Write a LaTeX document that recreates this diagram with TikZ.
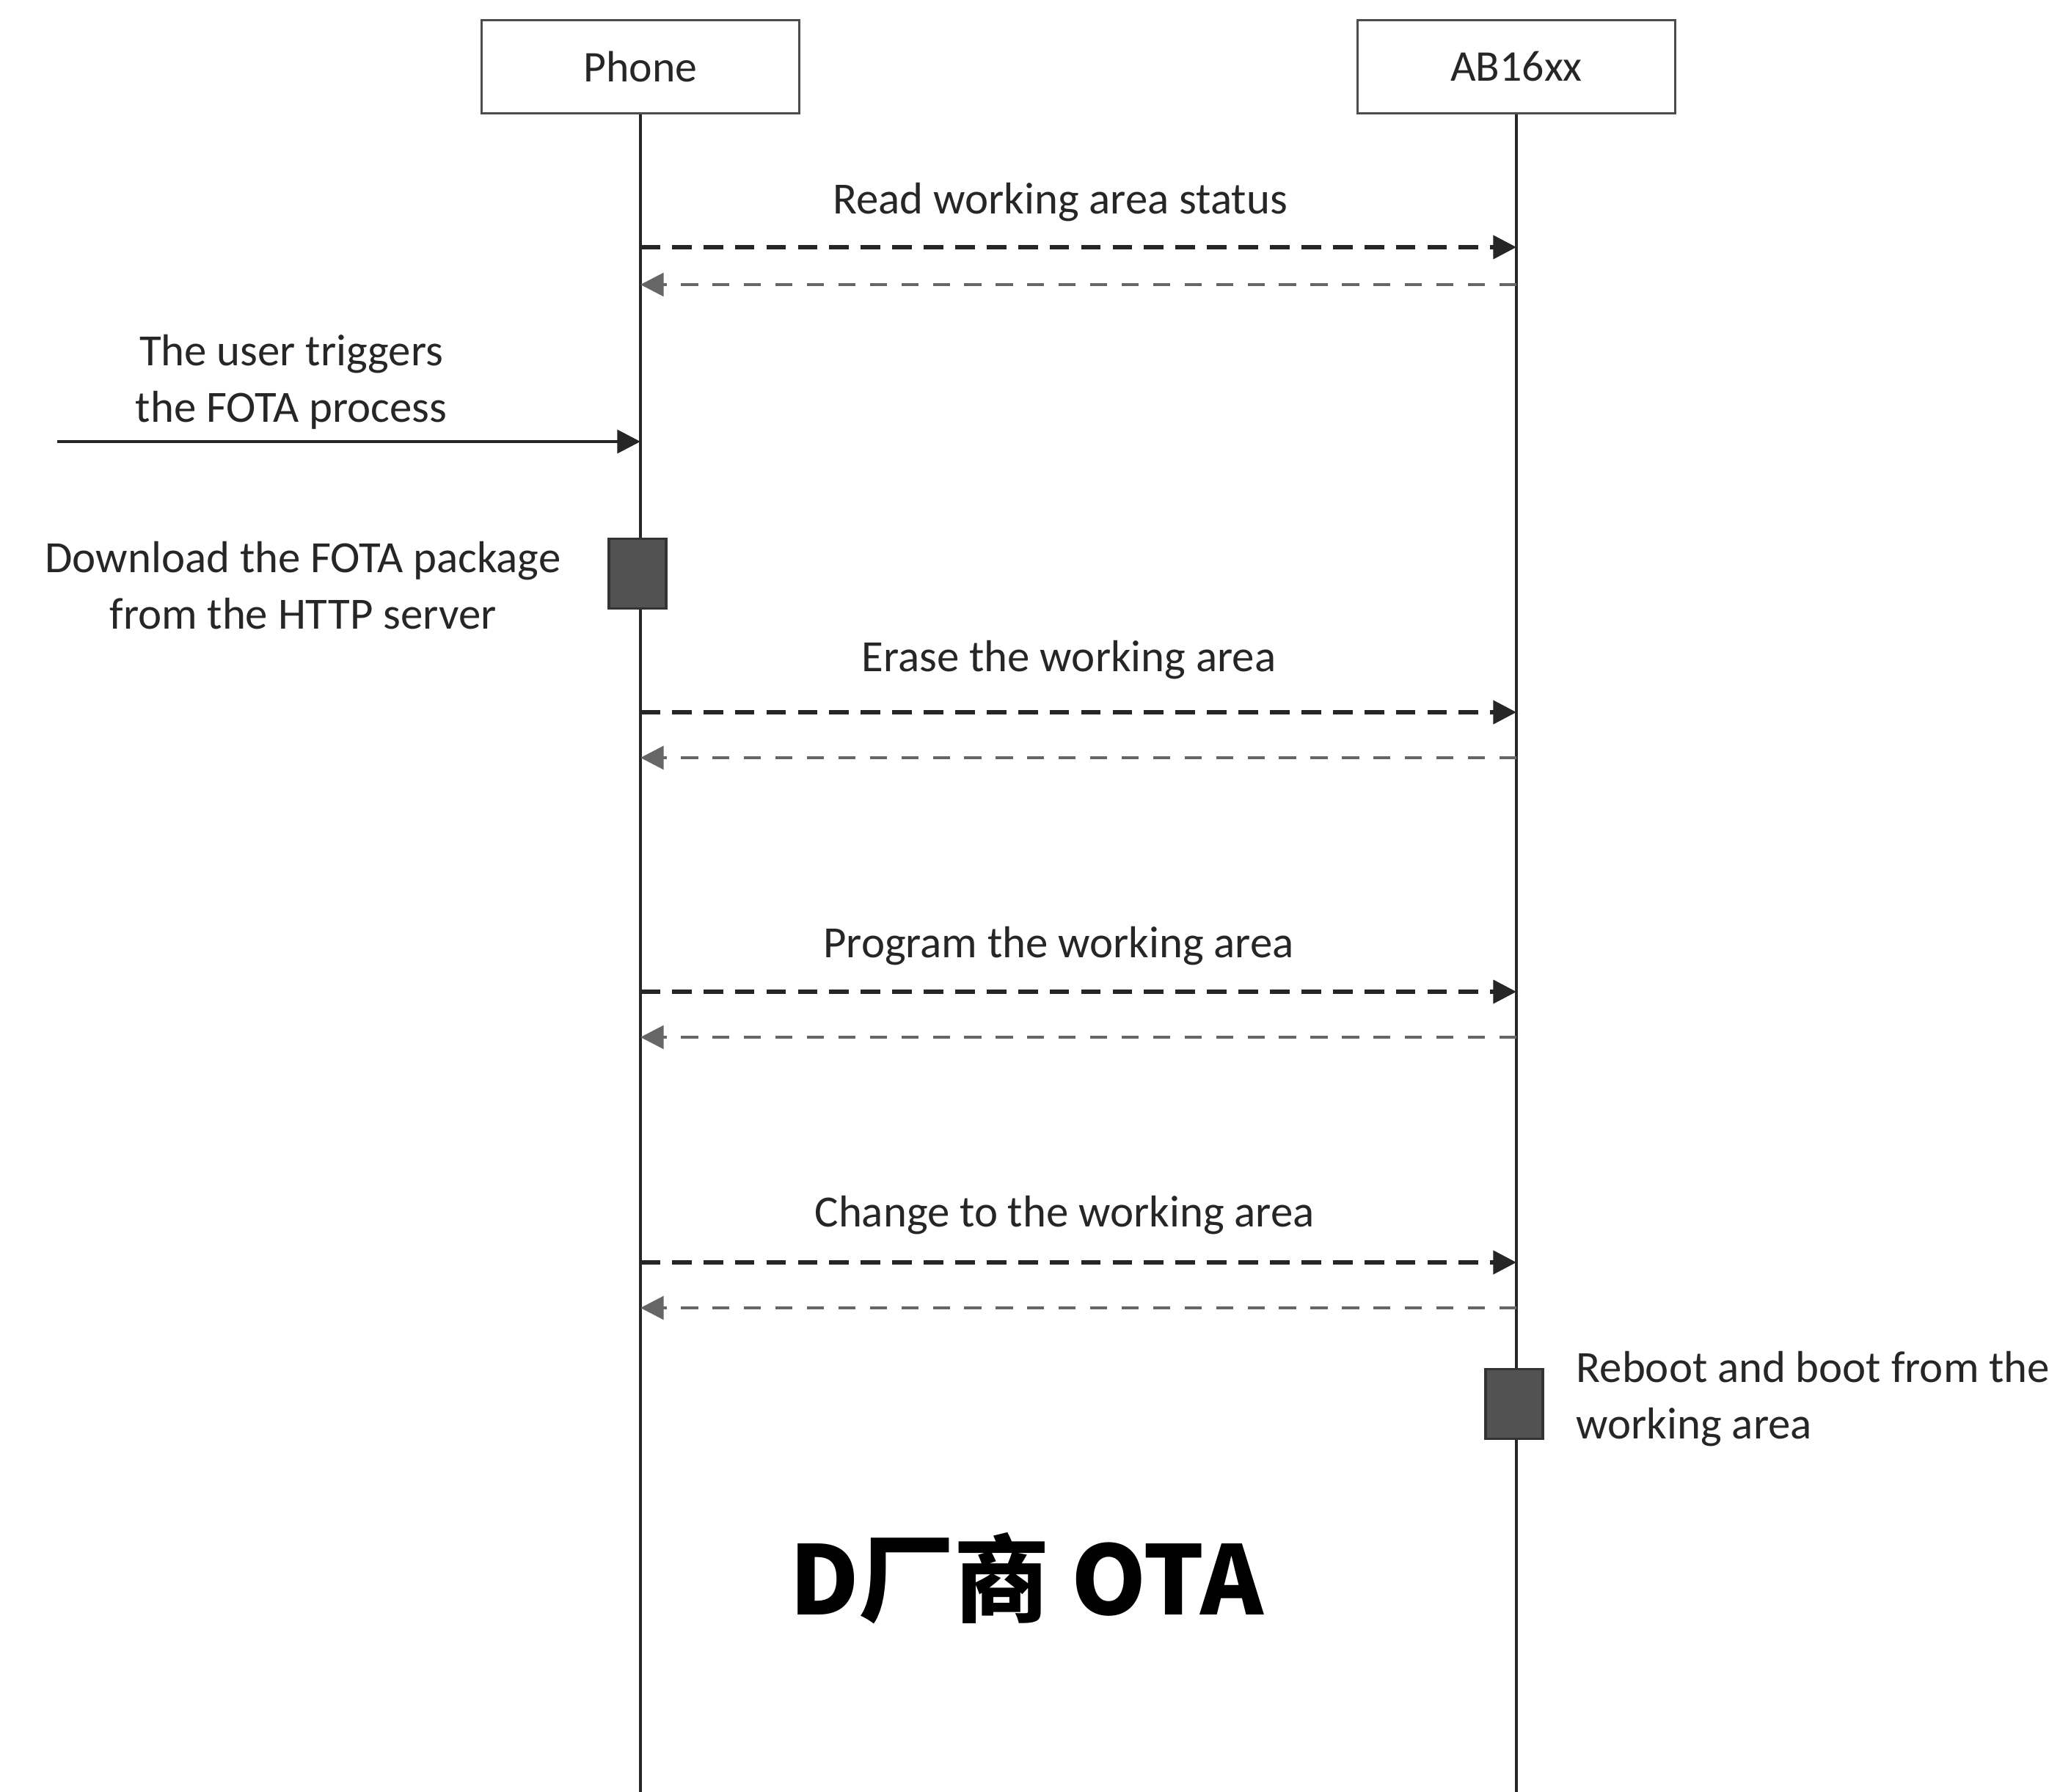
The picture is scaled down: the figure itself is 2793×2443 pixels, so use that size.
\documentclass[tikz,border=0pt]{standalone}
\usepackage{fontspec}
\setmainfont{Carlito}
\newfontfamily\cjkfont{Noto Sans CJK SC}
\usetikzlibrary{arrows.meta,positioning}

\tikzset{
  lifebox/.style={draw=black!70, line width=1pt, minimum width=4.33cm,
    minimum height=1.27cm, inner sep=0pt, text=black!85,
    font=\fontsize{17}{20}\selectfont},
  lifeline/.style={line width=0.9pt, black!85},
  callmsg/.style={line width=1.5pt, black!85, dash pattern=on 7.6pt off 4.6pt,
    -{Triangle[length=9pt,width=9pt]}},
  replymsg/.style={line width=1.2pt, black!60, dash pattern=on 6.6pt off 5.6pt,
    -{Triangle[length=9pt,width=9pt]}},
  usermsg/.style={line width=1.3pt, black!85, -{Triangle[length=9pt,width=9pt]}},
  activity/.style={draw=black!80, fill=black!68, line width=1pt,
    minimum width=0.78cm, minimum height=0.95cm, inner sep=0pt},
  msglabel/.style={text=black!85, inner sep=0pt, align=center,
    font=\fontsize{17.3}{22}\selectfont}
}

\begin{document}
\begin{tikzpicture}[x=0.01cm, y=-0.01cm]
  \useasboundingbox (0,0) rectangle (2793,2443);
  % Phone and AB16xx:
  %   the two parties, each with its lifeline down to the bottom
  \node[lifebox] (phone) at (873,91) {Phone};
  \node[lifebox] (ab) at (2067,91) {AB16xx};
  \coordinate (phoneend) at (873,2443);
  \coordinate (abend) at (2067,2443);
  \draw[lifeline] (phone.south) -- (phoneend);
  \draw[lifeline] (ab.south) -- (abend);

  % Read working area status
  \coordinate (p1) at (873,337);  \coordinate (a1) at (2067,337);
  \coordinate (p2) at (873,388);  \coordinate (a2) at (2067,388);
  \node[msglabel] (readlbl) at (1445,276) {Read working area status};
  \draw[callmsg] (p1) -- (a1);
  \draw[replymsg] (a2) -- (p2);

  % The user triggers the FOTA process
  \coordinate (user) at (78,602);  \coordinate (p3) at (873,602);
  \node[msglabel] (userlbl) at (397,521) {The user triggers\\the FOTA process};
  \draw[usermsg] (user) -- (p3);

  % Download the FOTA package
  \node[activity] (download) at (869,782) {};
  \node[msglabel] (downlbl) at (413,798) {Download the FOTA package\\from the HTTP server};

  % Erase the working area
  \coordinate (p4) at (873,971);  \coordinate (a4) at (2067,971);
  \coordinate (p5) at (873,1033); \coordinate (a5) at (2067,1033);
  \node[msglabel] (eraselbl) at (1457,900) {Erase the working area};
  \draw[callmsg] (p4) -- (a4);
  \draw[replymsg] (a5) -- (p5);

  % Program the working area
  \coordinate (p6) at (873,1352); \coordinate (a6) at (2067,1352);
  \coordinate (p7) at (873,1414); \coordinate (a7) at (2067,1414);
  \node[msglabel] (proglbl) at (1443,1290) {Program the working area};
  \draw[callmsg] (p6) -- (a6);
  \draw[replymsg] (a7) -- (p7);

  % Change to the working area
  \coordinate (p8) at (873,1721); \coordinate (a8) at (2067,1721);
  \coordinate (p9) at (873,1783); \coordinate (a9) at (2067,1783);
  \node[msglabel] (changelbl) at (1451,1657) {Change to the working area};
  \draw[callmsg] (p8) -- (a8);
  \draw[replymsg] (a9) -- (p9);

  % Reboot
  \node[activity] (reboot) at (2064,1914) {};
  \node[msglabel, align=left, anchor=west] (rebootlbl) at (2148,1907)
    {Reboot and boot from the\\working area};

  % title
  \node[inner sep=0pt, font=\cjkfont\bfseries\fontsize{37}{40}\selectfont]
    (title) at (1399,2152) {D厂商 OTA};
\end{tikzpicture}
\end{document}
